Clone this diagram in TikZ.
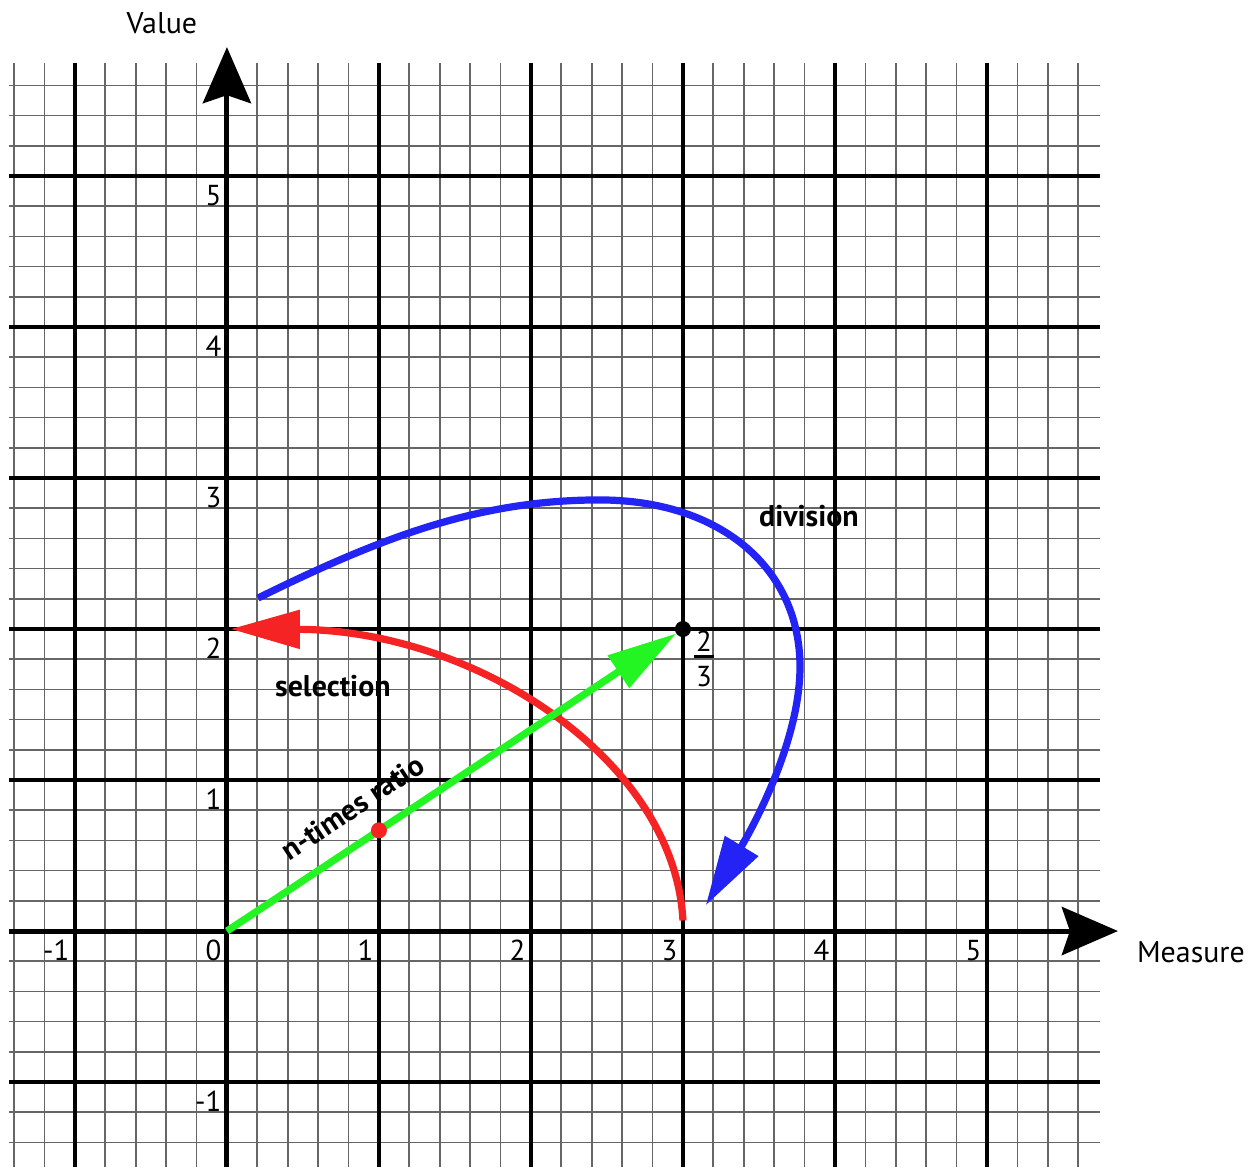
\documentclass[tikz,border=0pt]{standalone}
\usepackage{fontspec}
\setmainfont{PT Sans}
\usetikzlibrary{arrows.meta}
\definecolor{cblue}{RGB}{35,35,245}
\definecolor{cred}{RGB}{245,35,35}
\definecolor{cgreen}{RGB}{35,245,35}
\begin{document}
\begin{tikzpicture}[x=1cm, y=0.9934cm,
  minor/.style={line width=0.32pt, black!60},
  major/.style={line width=0.6pt, black},
  axis/.style={line width=0.95pt, black, -{Stealth[length=10.5pt, width=9pt, inset=1.5pt]}},
  curve/.style={line width=1.35pt, -{Triangle[length=13pt, width=7pt]}},
  tick/.style={anchor=north east, inner sep=0pt, font=\fontsize{5.4}{6}\selectfont},
  axlabel/.style={inner sep=0pt, font=\fontsize{5.6}{6}\selectfont},
  blabel/.style={inner sep=0pt, text=black, font=\fontsize{5.6}{6}\selectfont\bfseries},
  dot/.style={circle, inner sep=0pt, minimum size=3pt}]
\useasboundingbox (-1.493,-1.563) rectangle (6.783,6.166);
% grid
\foreach \i in {-7,...,28} {
  \draw[minor] (\i/5,-1.563) -- (\i/5,5.748);
  \draw[minor] (-1.434,\i/5) -- (5.743,\i/5);
}
\foreach \k in {-1,...,5} {
  \draw[major] (\k,-1.563) -- (\k,5.748);
  \draw[major] (-1.434,\k) -- (5.743,\k);
}
% axes
\coordinate (xs) at (-1.434,0);
\coordinate (xe) at (5.862,0);
\coordinate (ys) at (0,-1.563);
\coordinate (ye) at (0,5.854);
\draw[axis] (xs) -- (xe);
\draw[axis] (ys) -- (ye);
% tick labels
\foreach \k in {-1,0,1,2,3,4,5} {
  \node[tick] (tx\k) at (\k-0.03,-0.055) {\k};
}
\foreach \k in {-1,1,2,3,4,5} {
  \node[tick] (ty\k) at (-0.03,\k-0.055) {\k};
}
\node[axlabel] (vlab) at (-0.428,6.013) {Value};
\node[axlabel] (mlab) at (6.342,-0.139) {Measure};
% red curve (selection)
\coordinate (rs) at (3,0.07);
\draw[curve, cred] (rs) arc[start angle=2, end angle=89.6, x radius=3, y radius=2];
% blue curve (division)
\coordinate (bs) at (0.204,2.205);
\coordinate (bt) at (2.45,2.855);
\coordinate (br) at (3.77,1.75);
\coordinate (be) at (3.15,0.17);
\draw[curve, cblue] (bs) .. controls (1.0,2.6) and (1.65,2.855) .. (bt)
  .. controls (3.25,2.855) and (3.77,2.4) .. (br)
  .. controls (3.77,1.25) and (3.45,0.67) .. (be);
% green arrow (n-times ratio)
\coordinate (O) at (0,0);
\coordinate (P) at (3,2);
\draw[curve, cgreen, shorten >=1.5pt] (O) -- (P) node[blabel, pos=0.316, sloped, above=3.6pt] (nlab) {n-times ratio};
\node[dot, fill=black] (Pdot) at (P) {};
\node[dot, fill=cred] (R) at (1,0.6667) {};
% labels
\node[inner sep=0pt, font=\fontsize{5.4}{6}\selectfont] (frac) at (3.138,1.805)
  {\vbox{\hbox to 3.8pt{\hss 2\hss}\kern0.8pt\hrule height 0.56pt\kern1.4pt\hbox to 3.8pt{\hss 3\hss}}};
\node[blabel] (sel) at (0.697,1.623) {selection};
\node[blabel] (div) at (3.829,2.748) {division};
\end{tikzpicture}
\end{document}
